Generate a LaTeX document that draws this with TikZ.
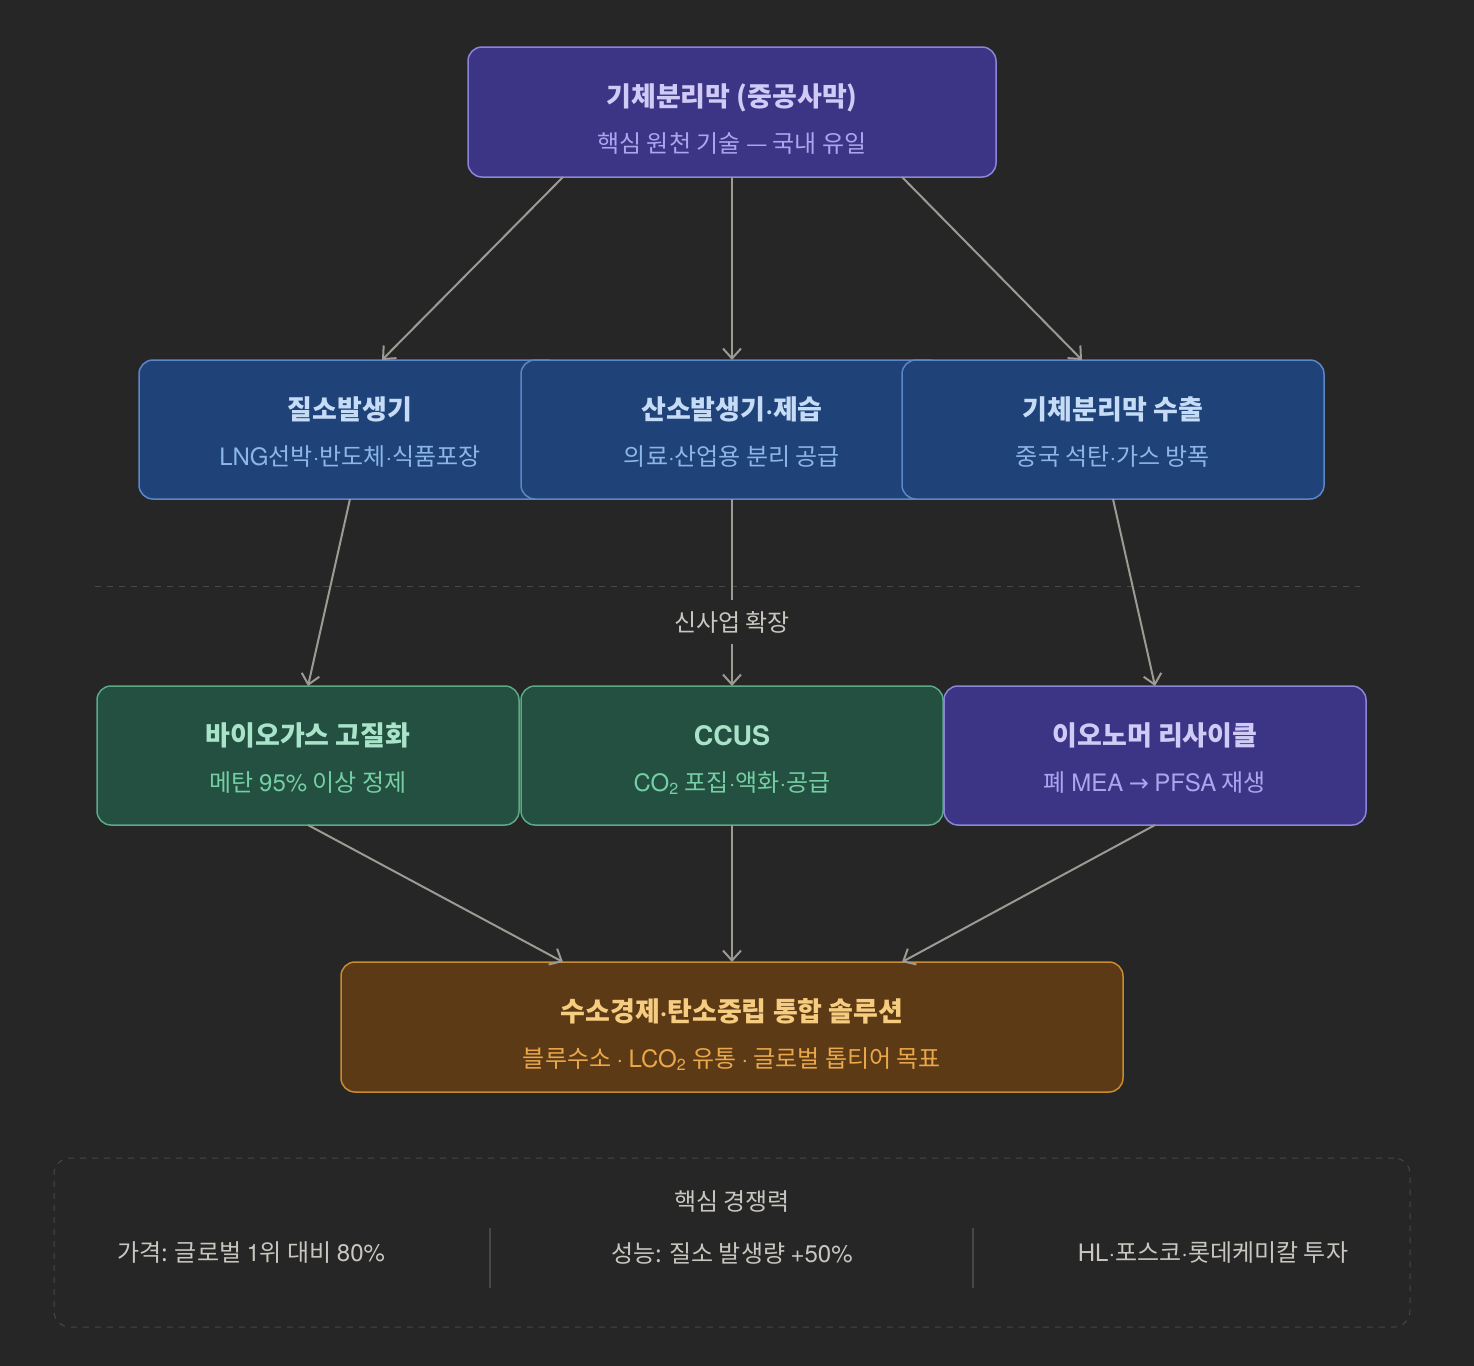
\documentclass[tikz,border=0pt]{standalone}
\usepackage{fontspec}
\setmainfont{Noto Sans CJK KR}
\newfontfamily\latinfont{TeX Gyre Heros}
\newfontfamily\symfont{DejaVu Sans}
\usepackage{tikz}
\usetikzlibrary{arrows.meta,calc,positioning}
\usepackage{xcolor}
\definecolor{bgdark}{HTML}{262626}
\definecolor{purplefill}{HTML}{3C3586}
\definecolor{purpleline}{HTML}{8B85D9}
\definecolor{purpletitle}{HTML}{CFCAF6}
\definecolor{purplesub}{HTML}{ACA5EE}
\definecolor{bluefill}{HTML}{1F4279}
\definecolor{blueline}{HTML}{5D86C6}
\definecolor{bluetitle}{HTML}{C6DCF6}
\definecolor{bluesub}{HTML}{8DB6E8}
\definecolor{greenfill}{HTML}{235040}
\definecolor{greenline}{HTML}{5AA987}
\definecolor{greentitle}{HTML}{A9E3C9}
\definecolor{greensub}{HTML}{75CFA5}
\definecolor{amberfill}{HTML}{5C3A15}
\definecolor{amberline}{HTML}{C98B2E}
\definecolor{ambertitle}{HTML}{F6CC80}
\definecolor{ambersub}{HTML}{EAA84A}
\definecolor{arrowgray}{HTML}{9C9A92}
\definecolor{textgray}{HTML}{C8C6BF}
\definecolor{rulegray}{HTML}{474747}

\newcommand{\subline}[2]{{\fontsize{12pt}{23pt}\selectfont\mdseries\color{#1}#2}}
\newcommand{\la}[1]{{\latinfont #1}}
\newcommand{\md}{{\latinfont ·}}

\begin{document}
\begin{tikzpicture}[
  x=0.5pt, y=-0.5pt,
  node distance=0pt,
  boxstyle/.style={rounded corners=7pt, line width=0.75pt, inner sep=0, outer sep=0, align=center, minimum width=211pt, minimum height=69.5pt, text height=37.5pt, text depth=2pt, font=\fontsize{13.5pt}{23pt}\selectfont\bfseries},
  purplestyle/.style={boxstyle, fill=purplefill, draw=purpleline, text=purpletitle},
  bluestyle/.style={boxstyle, fill=bluefill, draw=blueline, text=bluetitle},
  greenstyle/.style={boxstyle, fill=greenfill, draw=greenline, text=greentitle},
  amberstyle/.style={boxstyle, fill=amberfill, draw=amberline, text=ambertitle, minimum width=391pt, minimum height=65pt, text height=42pt},
  labelstyle/.style={inner sep=0, outer sep=0, text=textgray, font=\fontsize{12pt}{14pt}\selectfont},
  panelstyle/.style={draw=rulegray, dash pattern=on 3pt off 3pt, line width=0.5pt, rounded corners=8pt, minimum width=678pt, minimum height=84.5pt, inner sep=0},
  pathstyle/.style={draw=arrowgray, line width=1pt, -{Straight Barb[length=5pt, width=9pt]}},
  dashstyle/.style={draw=rulegray, line width=0.5pt, dash pattern=on 3pt off 3pt},
  sepstyle/.style={draw=rulegray, line width=0.6pt}
]

  \fill[bgdark] (0,0) rectangle (1474,1366);

  \node[purplestyle, minimum width=264pt, minimum height=65pt, text height=42pt] (GM) at (732,112)
    {기체분리막 (중공사막)\\\subline{purplesub}{핵심 원천 기술 — 국내 유일}};

  \node[bluestyle] (NIT) at (350,429.5)
    {질소발생기\\\subline{bluesub}{\la{LNG}선박\md 반도체\md 식품포장}};
  \node[bluestyle, right=-20pt of NIT] (OXY)
    {산소발생기\md 제습\\\subline{bluesub}{의료\md 산업용 분리 공급}};
  \node[bluestyle, right=-20.5pt of OXY] (EXPO)
    {기체분리막 수출\\\subline{bluesub}{중국 석탄\md 가스 방폭}};

  \node[greenstyle] (BIO) at (308,755.5)
    {바이오가스 고질화\\\subline{greensub}{메탄 \la{95\%} 이상 정제}};
  \node[greenstyle, right=1pt of BIO] (CCUS)
    {\la{CCUS}\\\subline{greensub}{\la{CO\textsubscript{2}} 포집\md 액화\md 공급}};
  \node[purplestyle, right=0.5pt of CCUS] (ION)
    {이오노머 리사이클\\\subline{purplesub}{폐 \la{MEA} {\symfont →} \la{PFSA} 재생}};

  \node[amberstyle] (H2) at (732,1027)
    {수소경제\md 탄소중립 통합 솔루션\\\subline{ambersub}{블루수소 \md\ \la{LCO\textsubscript{2}} 유통 \md\ 글로벌 톱티어 목표}};

  \draw[dashstyle] (95,586) -- (1360,586);
  \node[labelstyle, minimum height=22pt] (EXP) at (732,622)
    {신사업 확장};

  \draw[pathstyle] ($(GM.south)+(-169,0)$) -- ($(NIT.north)+(32,0)$);
  \draw[pathstyle] (GM.south) -- (OXY.north);
  \draw[pathstyle] ($(GM.south)+(170,0)$) -- ($(EXPO.north)+(-31,0)$);

  \draw[pathstyle] (NIT.south) -- (BIO.north);
  \draw[pathstyle, -] (OXY.south) -- (EXP.north);
  \draw[pathstyle] (EXP.south) -- (CCUS.north);
  \draw[pathstyle] (EXPO.south) -- (ION.north);

  \draw[pathstyle] (BIO.south) -- ($(H2.north)+(-169,0)$);
  \draw[pathstyle] (CCUS.south) -- (H2.north);
  \draw[pathstyle] (ION.south) -- ($(H2.north)+(170,0)$);

  \node[panelstyle] (PANEL) at (732,1242.5)
    {};
  \node[labelstyle] (PTITLE) at (732,1202)
    {핵심 경쟁력};
  \node[labelstyle] (P1) at (251,1253)
    {가격: 글로벌 \la{1}위 대비 \la{80\%}};
  \node[labelstyle] (P2) at (732,1253)
    {성능: 질소 발생량 \la{+50\%}};
  \node[labelstyle] (P3) at (1213,1253)
    {\la{HL}\md 포스코\md 롯데케미칼 투자};
  \draw[sepstyle] (490,1228) -- (490,1288);
  \draw[sepstyle] (973,1228) -- (973,1288);
\end{tikzpicture}
\end{document}
